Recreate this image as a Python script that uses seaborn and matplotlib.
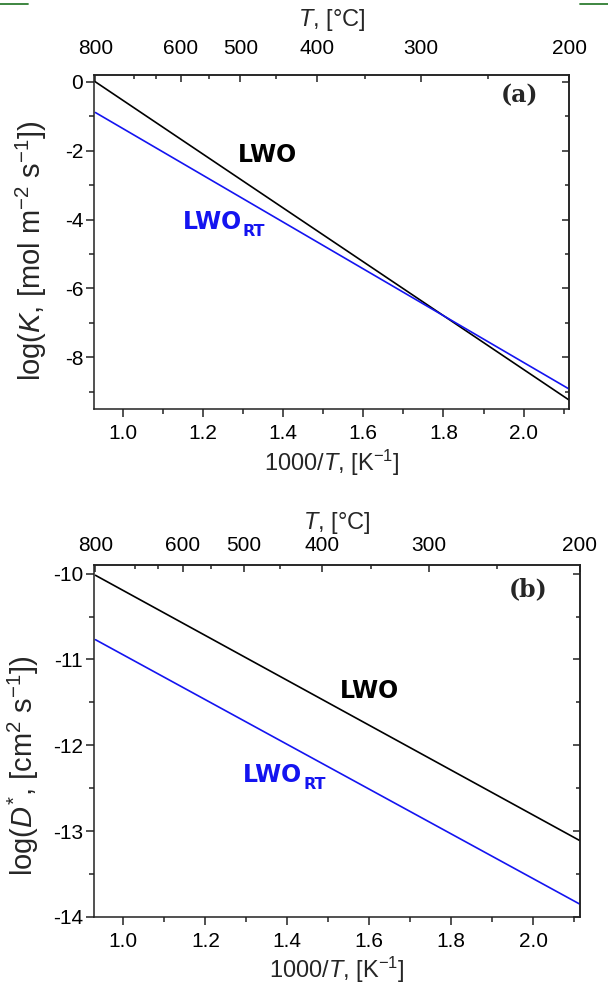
import numpy as np
import pandas as pd
import matplotlib
matplotlib.use("Agg")
import matplotlib.pyplot as plt
from matplotlib.ticker import FixedLocator, MultipleLocator, FormatStrFormatter
from matplotlib.lines import Line2D
import seaborn as sns

# Temperature range covered by the Arrhenius fits (°C)
t_range_c = [800, 200]

# log K, surface exchange coefficient, at the ends of the range
logK_lwo = [0.0, -9.24]
logK_lwo_rt = [-0.89, -8.92]

# log D*, tracer diffusion coefficient, at the ends of the range
logD_lwo = [-10.02, -13.11]
logD_lwo_rt = [-10.77, -13.85]

# Temperature ticks of the upper axis (°C)
top_major_c = [800, 600, 500, 400, 300, 200]
top_minor_c = [700, 650, 550, 450, 350, 250]

samples = ["LWO", "LWO_RT"]
palette = {"LWO": "black", "LWO_RT": "#1414f0"}

sns.set_theme(style="ticks")
plt.rcParams.update({
    "font.family": ["Liberation Sans", "DejaVu Sans"],
    "mathtext.fontset": "custom",
    "mathtext.rm": "Liberation Sans",
    "mathtext.it": "Liberation Sans:italic",
    "mathtext.bf": "DejaVu Sans:bold",
    "axes.unicode_minus": False,
    "axes.edgecolor": "#222222",
    "axes.linewidth": 1.1,
    "xtick.color": "#222222",
    "ytick.color": "#222222",
    "xtick.labelcolor": "black",
    "ytick.labelcolor": "black",
})


def inv_to_c(x):
    x = np.asarray(x, dtype=float)
    with np.errstate(divide="ignore", invalid="ignore"):
        return 1000.0 / x - 273.15


def c_to_inv(t):
    t = np.asarray(t, dtype=float)
    with np.errstate(divide="ignore", invalid="ignore"):
        return 1000.0 / (t + 273.15)


inv_t = list(c_to_inv(t_range_c))

df_k = pd.DataFrame({
    "inv_T": inv_t * 2,
    "value": logK_lwo + logK_lwo_rt,
    "sample": [samples[0]] * 2 + [samples[1]] * 2,
})
df_d = pd.DataFrame({
    "inv_T": inv_t * 2,
    "value": logD_lwo + logD_lwo_rt,
    "sample": [samples[0]] * 2 + [samples[1]] * 2,
})

W, H = 608, 983
fig = plt.figure(figsize=(W / 100, H / 100), dpi=100)


def px_axes(left, right, top, bottom):
    return fig.add_axes([left / W, 1 - bottom / H, (right - left) / W, (bottom - top) / H])


ax_a = px_axes(94.3, 569.3, 75, 409)
ax_b = px_axes(94.3, 580, 565, 917)

TICK_FS = 15
LABEL_FS = 17
YLABEL_FS = 21
TAG_FS = 17


def style_panel(ax, ylim, ymaj, ymin, ylabel, ylab_xy, xlab_y, top_pad, title_y,
                letter, letter_xy):
    ax.set_xlim(0.929, 2.114)
    ax.set_ylim(*ylim)
    ax.xaxis.set_major_locator(MultipleLocator(0.2))
    ax.xaxis.set_minor_locator(MultipleLocator(0.1))
    ax.yaxis.set_major_locator(MultipleLocator(ymaj))
    ax.yaxis.set_minor_locator(MultipleLocator(ymin))
    ax.xaxis.set_major_formatter(FormatStrFormatter("%.1f"))
    ax.yaxis.set_major_formatter(FormatStrFormatter("%d"))
    ax.tick_params(axis="x", which="both", bottom=True, top=False, direction="out",
                   labelsize=TICK_FS, pad=5)
    ax.tick_params(axis="y", which="both", left=True, right=False, direction="out",
                   labelsize=TICK_FS, pad=2)
    ax.tick_params(which="major", length=6, width=1.1)
    ax.tick_params(which="minor", length=3.5, width=1.1)

    ax.set_xlabel(r"1000/$T$, [K$^{-1}$]", fontsize=LABEL_FS)
    ax.xaxis.label.set_va("center")
    ax.xaxis.set_label_coords(0.5, xlab_y)
    ax.set_ylabel(ylabel, fontsize=YLABEL_FS)
    ax.yaxis.label.set_va("center")
    ax.yaxis.set_label_coords(*ylab_xy)

    # Right axis: same scale, inward ticks, no labels
    secy = ax.secondary_yaxis("right")
    secy.yaxis.set_major_locator(MultipleLocator(ymaj))
    secy.yaxis.set_minor_locator(MultipleLocator(ymin))
    secy.tick_params(which="both", direction="in", labelright=False, width=1.1)
    secy.tick_params(which="major", length=5)
    secy.tick_params(which="minor", length=3)

    # Upper axis in degrees Celsius
    secx = ax.secondary_xaxis("top", functions=(inv_to_c, c_to_inv))
    secx.set_xticks(top_major_c)
    secx.set_xticklabels([str(t) for t in top_major_c])
    secx.xaxis.set_minor_locator(FixedLocator(top_minor_c))
    secx.tick_params(which="both", direction="in", labelsize=TICK_FS, pad=top_pad,
                     width=1.1)
    secx.tick_params(which="major", length=5)
    secx.tick_params(which="minor", length=3)
    ax.text(0.5, title_y, r"$T$, [°C]", transform=ax.transAxes, ha="center",
            va="center", fontsize=LABEL_FS)

    ax.text(*letter_xy, letter, transform=ax.transAxes, ha="center", va="center",
            fontsize=TAG_FS, fontweight="bold", family="DejaVu Serif")


def sample_label(ax, x, y, name, color, sub=None):
    txt = ax.text(x, y, name, color=color, fontsize=17, fontweight="bold",
                  family="DejaVu Sans", ha="left", va="center")
    if sub:
        ax.annotate(sub, xy=(1, 0), xycoords=txt, xytext=(0.5, -1.5),
                    textcoords="offset points", color=color, fontsize=11.5,
                    fontweight="bold", family="DejaVu Sans", ha="left", va="baseline")


# (a) surface exchange
sns.lineplot(data=df_k, x="inv_T", y="value", hue="sample", palette=palette,
             legend=False, ax=ax_a, linewidth=1.2)
style_panel(ax_a, (-9.5, 0.2), 2, 1,
            r"log($K$, [mol m$^{-2}$ s$^{-1}$])", (-0.132, 0.475),
            -0.162, 12, 1.165, "(a)", (0.896, 0.940))
sample_label(ax_a, 1.288, -2.11, "LWO", palette["LWO"])
sample_label(ax_a, 1.149, -4.06, "LWO", palette["LWO_RT"], sub="RT")

# (b) tracer diffusion
sns.lineplot(data=df_d, x="inv_T", y="value", hue="sample", palette=palette,
             legend=False, ax=ax_b, linewidth=1.2)
style_panel(ax_b, (-14.0, -9.9), 1, 0.5,
            r"log($D^{*}$, [cm$^{2}$ s$^{-1}$])", (-0.145, 0.43),
            -0.150, 7.5, 1.119, "(b)", (0.894, 0.932))
sample_label(ax_b, 1.527, -11.37, "LWO", palette["LWO"])
sample_label(ax_b, 1.292, -12.35, "LWO", palette["LWO_RT"], sub="RT")

# Page rule marks at the upper corners
for x0, x1 in ((0, 28), (580, 608)):
    fig.add_artist(Line2D([x0 / W, x1 / W], [1 - 4 / H, 1 - 4 / H],
                          transform=fig.transFigure, color="#2e7d32", lw=1.3))

fig.savefig("out.png", dpi=100)
